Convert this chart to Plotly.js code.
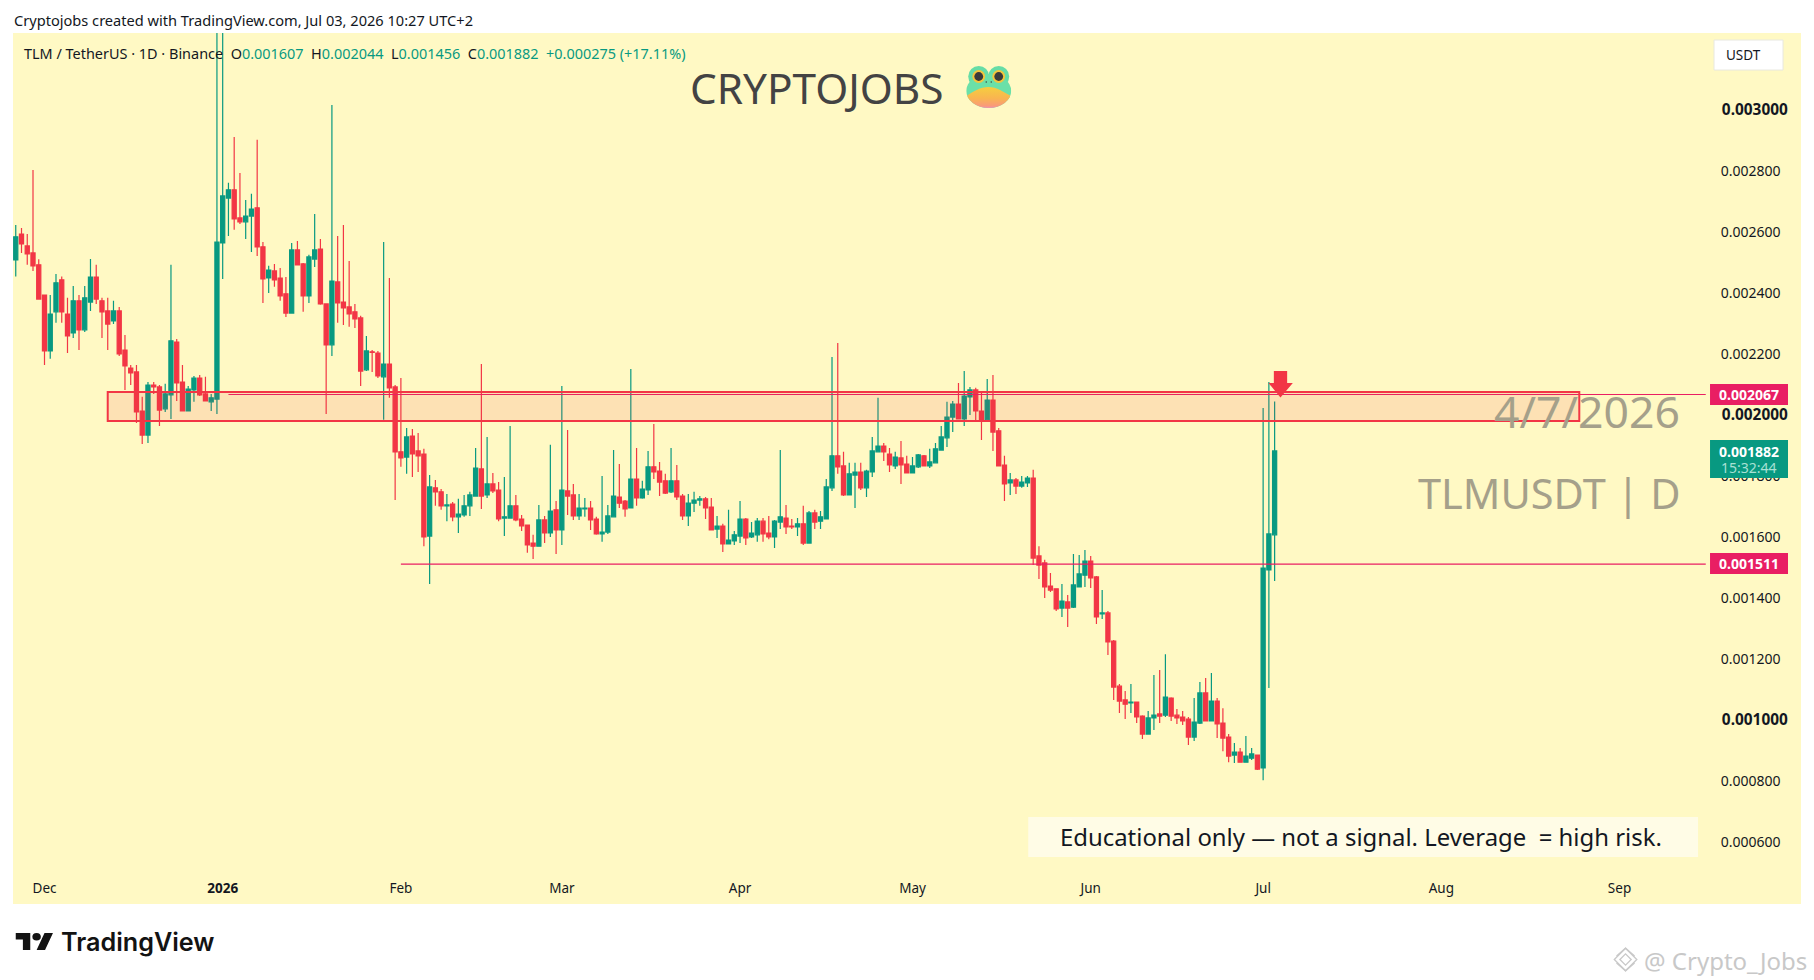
<!DOCTYPE html>
<html><head><meta charset="utf-8">
<script src="https://cdn.plot.ly/plotly-3.0.1.min.js"></script>
<style>html,body{margin:0;padding:0;background:#fff;overflow:hidden}#chart{width:1814px;height:980px}</style>
</head><body><div id="chart"></div>
<script>
// Daily candles, first candle 2025-11-26. Values in millionths of USDT.
const firstDay = '2025-11-26';
const opens = [
2508,2593,2554,2531,2492,2393,2210,2338,2443,2331,2269,2374,2279,2370,2452,2374,2341,2308,2341,2213,
2154,2141,2013,1934,2098,2092,2020,2066,2239,2108,2013,2082,2121,2069,2043,2052,2564,2711,2738,2646,
2633,2652,2679,2551,2449,2472,2449,2397,2334,2541,2495,2390,2511,2544,2364,2230,2436,2370,2354,2338,
2318,2148,2207,2203,2125,2167,2092,1879,1862,1931,1882,1872,1603,1761,1748,1702,1708,1666,1672,1702,
1734,1823,1738,1774,1754,1662,1662,1702,1659,1639,1580,1570,1656,1613,1689,1623,1751,1738,1669,1692,
1695,1659,1610,1616,1666,1731,1718,1695,1790,1728,1754,1830,1816,1784,1748,1784,1734,1669,1711,1721,
1725,1698,1626,1636,1577,1587,1603,1659,1600,1607,1652,1613,1600,1649,1662,1636,1633,1643,1580,1679,
1652,1659,1761,1866,1833,1738,1803,1813,1761,1813,1879,1898,1872,1833,1859,1839,1810,1830,1866,1833,
1843,1885,1925,1993,2036,1987,2059,2082,2013,1984,2049,1948,1836,1777,1787,1767,1777,1793,1538,1515,
1439,1430,1367,1387,1370,1436,1475,1521,1469,1348,1351,1259,1111,1066,1056,1059,1013,954,1007,1020,
1016,1072,1016,1010,1003,944,990,1089,997,1062,990,944,885,895,862,875,885,843,1492,1607];
const highs = [
2623,2613,2593,2803,2510,2393,2393,2462,2454,2384,2423,2393,2423,2511,2492,2384,2384,2374,2354,2262,
2164,2164,2060,2108,2108,2098,2102,2492,2249,2164,2095,2128,2131,2125,2069,3400,3300,2761,2911,2793,
2705,2725,2902,2567,2489,2495,2482,2452,2564,2570,2498,2525,2659,2577,2364,3016,2587,2623,2505,2364,
2325,2259,2213,2210,2567,2449,2098,2121,1957,1954,1941,1889,1803,1787,1757,1741,1715,1725,1738,1748,
1892,2167,1928,1810,1780,1797,1964,1738,1672,1639,1607,1705,1669,1902,1718,2095,1951,1774,1741,1728,
1718,1666,1800,1705,1885,1839,1721,2151,1892,1784,1882,1970,1846,1807,1892,1836,1741,1741,1748,1734,
1731,1728,1669,1643,1689,1620,1718,1662,1649,1662,1662,1669,1656,1885,1705,1659,1662,1702,1685,1689,
1685,1790,2190,2236,1879,1843,1843,1843,1820,1928,2056,1908,1892,1879,1915,1866,1862,1872,1869,1889,
1908,1964,2043,2046,2105,2144,2092,2089,2072,2118,2131,1957,1866,1810,1793,1800,1800,1820,1570,1525,
1482,1430,1446,1410,1544,1541,1557,1538,1472,1426,1357,1262,1118,1095,1118,1059,1016,1030,1148,1164,
1216,1075,1036,1030,1010,1072,1125,1138,1154,1072,1039,954,925,908,948,908,885,2023,2108,2044];
const lows = [
2454,2531,2492,2472,2380,2164,2184,2302,2302,2203,2252,2213,2272,2341,2364,2252,2213,2298,2193,2082,
2098,1974,1905,1908,2069,1964,2010,1987,2046,2013,2013,2043,2062,2046,2013,2003,2446,2587,2607,2626,
2577,2534,2521,2367,2400,2420,2374,2321,2334,2492,2338,2367,2485,2361,2003,2193,2302,2295,2289,2285,
2095,2144,2141,2121,1984,2056,1721,1830,1807,1797,1813,1570,1446,1702,1689,1652,1652,1613,1666,1669,
1734,1692,1728,1744,1652,1603,1662,1652,1620,1548,1528,1570,1580,1600,1544,1574,1672,1656,1656,1666,
1623,1607,1584,1610,1666,1695,1666,1695,1702,1725,1738,1790,1734,1741,1744,1721,1656,1636,1682,1702,
1659,1623,1597,1551,1577,1574,1580,1574,1597,1584,1584,1593,1564,1626,1610,1626,1603,1574,1580,1626,
1626,1659,1751,1807,1734,1738,1695,1754,1731,1797,1879,1849,1813,1823,1774,1810,1810,1826,1833,1826,
1843,1885,1895,1944,1987,1964,2000,1980,1918,1984,1882,1833,1718,1738,1741,1761,1764,1508,1462,1400,
1420,1357,1338,1305,1367,1436,1436,1433,1315,1331,1213,1066,1023,1003,1023,990,938,954,967,990,
1010,997,987,984,918,931,987,997,997,941,898,862,859,862,862,869,836,803,1105,1456];
const closes = [
2584,2561,2528,2489,2380,2210,2331,2433,2338,2259,2374,2279,2384,2452,2380,2338,2298,2341,2200,2161,
2138,2010,1934,2098,2092,2016,2069,2243,2105,2013,2085,2121,2066,2046,2056,2567,2718,2738,2643,2633,
2652,2675,2551,2446,2475,2443,2390,2334,2541,2492,2390,2518,2541,2364,2230,2439,2367,2351,2331,2315,
2144,2210,2205,2128,2167,2089,1879,1859,1928,1872,1866,1600,1764,1748,1702,1705,1666,1675,1702,1738,
1826,1734,1774,1751,1659,1666,1702,1656,1636,1574,1570,1656,1613,1685,1623,1754,1734,1669,1695,1695,
1656,1610,1616,1669,1734,1711,1692,1790,1728,1757,1830,1813,1780,1744,1784,1731,1669,1711,1721,1725,
1695,1623,1636,1577,1590,1607,1659,1597,1613,1652,1610,1600,1652,1666,1633,1633,1643,1580,1679,1649,
1666,1764,1866,1830,1738,1807,1813,1761,1816,1882,1898,1879,1836,1862,1836,1810,1833,1869,1833,1846,
1889,1928,1993,2036,1987,2062,2082,2013,1980,2049,1944,1833,1774,1787,1767,1780,1793,1531,1508,1436,
1426,1364,1390,1367,1443,1479,1521,1466,1338,1351,1256,1108,1062,1052,1059,1010,954,1007,1016,1013,
1075,1013,1007,997,944,993,1089,997,1062,987,941,882,895,862,882,889,839,1498,1610,1882];

const xTickDates = ['2025-12-01','2026-01-01','2026-02-01','2026-03-01','2026-04-01','2026-05-01','2026-06-01','2026-07-01','2026-08-01','2026-09-01'];
const xTickLabels = ['Dec','<b>2026</b>','Feb','Mar','Apr','May','Jun','Jul','Aug','Sep'];
const yTickValues = [0.0006,0.0008,0.0010,0.0012,0.0014,0.0016,0.0018,0.0020,0.0022,0.0024,0.0026,0.0028,0.0030];
const yTickNames = ['0.000600','0.000800','0.001000','0.001200','0.001400','0.001600','0.001800','0.002000','0.002200','0.002400','0.002600','0.002800','0.003000'];
const yTickMajor = ['0.001000','0.002000','0.003000'];
const zoneTop = 0.002075, zoneBottom = 0.00198;
const resistance = 0.002067, support = 0.001511;

const GREEN='#089981', RED='#F23645', PINK='#E91E63', BG='#FFF9C4', INK='#131722';
const FONT='"Noto Sans", sans-serif';
const L=12.5,R=1801,T=33,B=904;
const px=x=>(x-L)/(R-L), py=y=>(B-y)/(B-T);
const m=a=>a.map(v=>v/1e6);
const yTickLabels=yTickNames.map(t=>yTickMajor.includes(t)?`<b><span style="font-size:15.4px">${t}</span></b>`:`${t}&nbsp;&nbsp;`);

const dates=[];{const d=new Date(firstDay+'T00:00:00Z');for(let i=0;i<opens.length;i++){dates.push(d.toISOString().slice(0,10));d.setUTCDate(d.getUTCDate()+1);}}

const trace={type:'candlestick',x:dates,open:m(opens),high:m(highs),low:m(lows),close:m(closes),
  increasing:{line:{color:GREEN,width:1.2},fillcolor:GREEN},
  decreasing:{line:{color:RED,width:1.2},fillcolor:RED},
  whiskerwidth:0,hoverinfo:'skip'};

function txt(x,y,text,size,color,anchor,extra){
  return Object.assign({xref:'paper',yref:'paper',x:px(x),y:py(y),text:text,showarrow:false,
    xanchor:anchor||'left',yanchor:'middle',align:anchor||'left',borderpad:0,
    font:{family:FONT,size:size,color:color}},extra||{});
}
function box(x0,y0,x1,y1,fill,line){
  return {type:'rect',xref:'paper',yref:'paper',x0:px(x0),x1:px(x1),y0:py(y1),y1:py(y0),
    fillcolor:fill,line:line||{width:0},layer:'above'};
}
function poly(points,fill){
  return {type:'path',xref:'paper',yref:'paper',layer:'above',fillcolor:fill,line:{width:0},
    path:points.map((p,i)=>(i?'L':'M')+px(p[0])+','+py(p[1])).join(' ')+' Z'};
}
const svg=s=>'data:image/svg+xml;charset=utf-8,'+encodeURIComponent(s);
function img(source,x,y,w,h){
  return {source:source,xref:'paper',yref:'paper',x:px(x),y:py(y),sizex:w/(R-L),sizey:h/(B-T),
    xanchor:'left',yanchor:'top',sizing:'stretch',layer:'above'};
}
const frog=svg(`<svg xmlns="http://www.w3.org/2000/svg" viewBox="0 0 45 42"><defs>
<linearGradient id="g" x1="0" y1="0" x2="0" y2="1"><stop offset="0" stop-color="#F5CE3F"/><stop offset=".55" stop-color="#F9B451"/><stop offset=".9" stop-color="#F99A7A"/><stop offset="1" stop-color="#F48FB1"/></linearGradient>
<clipPath id="c"><ellipse cx="22.5" cy="25" rx="22.5" ry="17"/></clipPath></defs>
<circle cx="12.5" cy="10.5" r="10.5" fill="#66DDA6"/><circle cx="32.5" cy="10.5" r="10.5" fill="#66DDA6"/>
<ellipse cx="22.5" cy="25" rx="22.5" ry="17" fill="#6BE0A8"/>
<path clip-path="url(#c)" d="M0 30 C8 25 14 21 22 21 C31 21 37 26 45 30 L45 42 L0 42 Z" fill="url(#g)"/>
<circle cx="12.5" cy="10.5" r="6.4" fill="#F3C53D"/><circle cx="12.5" cy="10.5" r="4.4" fill="#3A3A3A"/>
<circle cx="32.5" cy="10.5" r="6.4" fill="#F3C53D"/><circle cx="32.5" cy="10.5" r="4.4" fill="#3A3A3A"/>
<circle cx="20" cy="16" r=".7" fill="#3A3A3A"/><circle cx="25" cy="16" r=".7" fill="#3A3A3A"/></svg>`);
const tvLogo=svg(`<svg xmlns="http://www.w3.org/2000/svg" viewBox="0 3 36 20"><path fill="#131313" d="M14 22H7V11H0V4h14v18zM28 22h-8l7.5-18h8L28 22z"/><circle fill="#131313" cx="20" cy="8" r="4"/></svg>`);
const binanceMark=svg(`<svg xmlns="http://www.w3.org/2000/svg" viewBox="0 0 24 24" fill="none" stroke="#C9C9C9" stroke-width="1.2"><path d="M12 2 22 12 12 22 2 12Z"/><path d="M12 7 17 12 12 17 7 12Z"/><path d="M4 9 12 2 20 9M4 15 12 22 20 15"/></svg>`);

const sp='&nbsp;&nbsp;';
const header=`<span style="color:${INK}">TLM / TetherUS · 1D · Binance${sp}O</span>0.001607${sp}<span style="color:${INK}">H</span>0.002044${sp}<span style="color:${INK}">L</span>0.001456${sp}<span style="color:${INK}">C</span>0.001882${sp}+0.000275 (+17.11%)`;

const shapes=[
  {type:'line',xref:'x',yref:'y',x0:'2026-01-02',x1:'2026-09-16',y0:resistance,y1:resistance,line:{color:PINK,width:1.2},layer:'above'},
  {type:'line',xref:'x',yref:'y',x0:'2026-02-01',x1:'2026-09-16',y0:support,y1:support,line:{color:PINK,width:1.2},layer:'above'},
  {type:'rect',xref:'x',yref:'y',x0:'2025-12-12',x1:'2026-08-25',y0:zoneBottom,y1:zoneTop,fillcolor:'rgba(242,54,69,0.12)',line:{color:RED,width:2},layer:'above'},
  poly([[1273.7,371],[1287,371],[1287,383],[1292.7,383],[1280.3,397.5],[1268.3,383],[1273.7,383]],RED),
  box(1028,817,1698,857,'#FFFCE6'),
  box(1710,384,1788,405,PINK),
  box(1710,440,1788,478,GREEN),
  box(1710,553,1788,574,PINK),
  box(1714,40,1783,70,'#FFFFFF',{color:'#E8E8E0',width:1})
];

const annotations=[
  txt(13,20,'Cryptojobs created with TradingView.com, Jul 03, 2026 10:27 UTC+2',14.6,INK),
  txt(23,53,header,14.45,GREEN),
  txt(689,87,'CRYPTOJOBS',42.3,'#434343'),
  txt(1681,410,'4/7/2026',44.5,'#A5A08A','right'),
  txt(1681,493,'TLMUSDT | D',41.5,'#A5A08A','right'),
  txt(1059,836,'Educational only — not a signal. Leverage  = high risk.',23.9,INK),
  txt(1749,394.5,'<b>0.002067</b>',14,'#FFFFFF','center'),
  txt(1749,451,'<b>0.001882</b>',14,'#FFFFFF','center'),
  txt(1749,468,'15:32:44',14,'#A8E0D4','center'),
  txt(1749,563.5,'<b>0.001511</b>',14,'#FFFFFF','center'),
  txt(1743,55,'USDT',13.5,INK,'center'),
  txt(60,942,'TradingView',25.2,'#131313','left',{font:{family:'Inter, sans-serif',size:25.2,color:'#131313',weight:600}}),
  txt(1643,960,'@ Crypto_Jobs',24,'#C8C8C8')
];

const layout={
  width:1814,height:980,autosize:false,
  margin:{l:L,r:1814-R,t:T,b:980-B,pad:0},
  paper_bgcolor:'#FFFFFF',plot_bgcolor:BG,showlegend:false,boxgap:0.28,boxgroupgap:0,
  hovermode:false,dragmode:false,
  font:{family:FONT,size:13,color:INK},
  xaxis:{type:'date',range:['2025-11-25 12:30','2026-10-02 13:40'],rangeslider:{visible:false},
    tickmode:'array',tickvals:xTickDates,ticktext:xTickLabels,ticklabelposition:'inside',
    ticks:'inside',ticklen:8,tickcolor:'rgba(0,0,0,0)',showgrid:false,zeroline:false,showline:false,
    tickfont:{family:FONT,size:13.5,color:INK}},
  yaxis:{side:'right',range:[0.000397,0.003252],tickmode:'array',tickvals:yTickValues,ticktext:yTickLabels,
    ticklabelposition:'inside',ticks:'inside',ticklen:13,tickcolor:'rgba(0,0,0,0)',
    showgrid:false,zeroline:false,showline:false,tickfont:{family:FONT,size:14,color:INK}},
  shapes:shapes,annotations:annotations,
  images:[img(frog,966,66,45,42),img(tvLogo,15,932,38,19),img(binanceMark,1612,946,27,27)]
};
Plotly.newPlot('chart',[trace],layout,{displayModeBar:false,staticPlot:true});
</script></body></html>
